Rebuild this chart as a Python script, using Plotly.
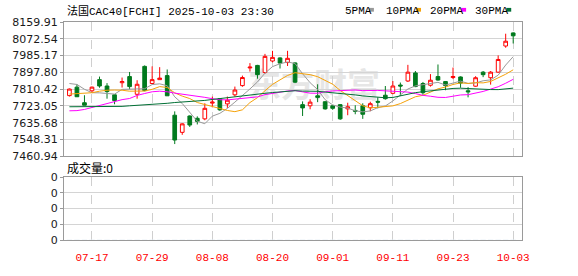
import plotly.graph_objects as go
import pandas as pd

# ---------------- data ----------------
dates = ["07-14", "07-15", "07-16", "07-17", "07-18", "07-21", "07-22", "07-23", "07-24", "07-25",
         "07-28", "07-29", "07-30", "07-31", "08-01", "08-04", "08-05", "08-06", "08-07", "08-08",
         "08-11", "08-12", "08-13", "08-14", "08-15", "08-18", "08-19", "08-20", "08-21", "08-22",
         "08-25", "08-26", "08-27", "08-28", "08-29", "09-01", "09-02", "09-03", "09-04", "09-05",
         "09-08", "09-09", "09-10", "09-11", "09-12", "09-15", "09-16", "09-17", "09-18", "09-19",
         "09-22", "09-23", "09-24", "09-25", "09-26", "09-29", "09-30", "10-01", "10-02", "10-03"]

opens = [7777, 7821, 7740, 7802, 7860, 7827, 7781, 7844, 7876, 7784,
         7929, 7840, 7860, 7881, 7675, 7586, 7671, 7659, 7656, 7738,
         7761, 7734, 7781, 7829, 7921, 7934, 7897, 7957, 7973, 7949,
         7947, 7730, 7724, 7776, 7745, 7724, 7730, 7708, 7700, 7724,
         7714, 7747, 7779, 7789, 7832, 7853, 7895, 7840, 7831, 7876,
         7850, 7871, 7874, 7802, 7826, 7899, 7870, 7899, 8035, 8103]
highs = [7814, 7836, 7779, 7824, 7876, 7842, 7784, 7871, 7900, 7857,
         7934, 7929, 7925, 7913, 7695, 7633, 7674, 7669, 7737, 7772,
         7764, 7772, 7824, 7881, 7946, 7937, 7994, 8010, 7976, 8010,
         7950, 7747, 7758, 7836, 7748, 7729, 7733, 7740, 7727, 7737,
         7745, 7768, 7827, 7853, 7845, 7937, 7905, 7848, 7889, 7939,
         7853, 7923, 7877, 7821, 7878, 7905, 7905, 7986, 8099, 8106]
lows = [7772, 7771, 7727, 7795, 7818, 7761, 7732, 7819, 7810, 7761,
        7800, 7840, 7860, 7776, 7525, 7573, 7614, 7627, 7649, 7716,
        7698, 7713, 7772, 7823, 7902, 7865, 7891, 7950, 7918, 7931,
        7842, 7671, 7706, 7743, 7704, 7703, 7651, 7675, 7680, 7656,
        7696, 7711, 7756, 7784, 7776, 7848, 7821, 7781, 7824, 7855,
        7805, 7863, 7818, 7768, 7823, 7873, 7834, 7896, 8026, 8048]
closes = [7811, 7771, 7727, 7821, 7827, 7798, 7751, 7850, 7824, 7836,
          7803, 7860, 7868, 7776, 7546, 7630, 7624, 7643, 7711, 7743,
          7703, 7753, 7806, 7871, 7925, 7886, 7981, 7976, 7946, 7971,
          7847, 7713, 7743, 7768, 7708, 7711, 7656, 7719, 7696, 7680,
          7735, 7743, 7761, 7827, 7827, 7899, 7824, 7792, 7857, 7858,
          7829, 7876, 7842, 7797, 7870, 7886, 7899, 7965, 8060, 8088]
volumes = [0, 0, 0, 0, 0, 0, 0, 0, 0, 0, 0, 0, 0, 0, 0, 0, 0, 0, 0, 0,
           0, 0, 0, 0, 0, 0, 0, 0, 0, 0, 0, 0, 0, 0, 0, 0, 0, 0, 0, 0,
           0, 0, 0, 0, 0, 0, 0, 0, 0, 0, 0, 0, 0, 0, 0, 0, 0, 0, 0, 0]

ma5_head = [7840, 7835, 7810, 7792]
ma10_head = [7785, 7788, 7789, 7792, 7800, 7805, 7806, 7805, 7800]
ma20_head = [7698, 7699, 7705, 7716, 7726, 7737, 7746, 7756, 7762, 7778,
             7788, 7797, 7800, 7797, 7790, 7785, 7780, 7774, 7768]
ma30_head = [7719, 7719, 7719, 7719, 7719, 7719, 7719, 7721, 7724, 7726,
             7728, 7731, 7734, 7737, 7741, 7743, 7745, 7748, 7752, 7757,
             7762, 7767, 7772, 7777, 7781, 7785, 7789, 7793, 7797]

tick_labels = ["07-17", "07-29", "08-08", "08-20", "09-01", "09-11", "09-23", "10-03"]
price_ticks = [8159.91, 8072.54, 7985.17, 7897.80, 7810.42, 7723.05, 7635.68, 7548.31, 7460.94]
vol_ticks = [0, 1, 2, 3, 4]
vol_tick_text = ["0", "0", "0", "0", "0"]

title_text = "法国CAC40[FCHI] 2025-10-03 23:30"
vol_title = "成交量:0"
ma_names = ["5PMA", "10PMA", "20PMA", "30PMA"]
ma_colors = ["#999999", "#f5a20a", "#ff00ff", "#006f35"]

# ---------------- derived ----------------
x = list(range(len(dates)))
tickvals = [dates.index(t) for t in tick_labels]


def moving_average(n, head):
    s = pd.Series(closes).rolling(n).mean().tolist()
    return list(head) + s[len(head):]


mas = [moving_average(5, ma5_head), moving_average(10, ma10_head),
       moving_average(20, ma20_head), moving_average(30, ma30_head)]

# ---------------- geometry helpers ----------------
W, H = 578, 276
L, R, T, B = 55, 56, 22, 22
PW, PH = W - L - R, H - T - B


def px(xp):
    return (xp - L) / PW


def py(yp):
    return (H - B - yp) / PH


main_dom = [py(165), 1.0]
vol_dom = [0.0, py(187)]

fig = go.Figure()

for name, col, vals in zip(ma_names, ma_colors, mas):
    fig.add_trace(go.Scatter(x=x, y=vals, mode="lines", name=name,
                             line=dict(color=col, width=1), hoverinfo="skip",
                             xaxis="x", yaxis="y"))

fig.add_trace(go.Candlestick(
    x=x, open=opens, high=highs, low=lows, close=closes,
    increasing=dict(line=dict(color="#ff0000", width=1), fillcolor="#ffffff"),
    decreasing=dict(line=dict(color="#007a1e", width=1), fillcolor="#007a1e"),
    whiskerwidth=0, xaxis="x", yaxis="y", name="K"))

fig.add_trace(go.Bar(x=x, y=volumes, marker_color="#007a1e", xaxis="x2", yaxis="y2"))

grid = "#d4d4d4"
frame = "#9a9a9a"
xr = [-0.72, 60.17]
axfont = dict(family="DejaVu Sans", size=11, color="#1a1a1a")

fig.update_layout(
    width=W, height=H, margin=dict(l=L, r=R, t=T, b=B),
    paper_bgcolor="white", plot_bgcolor="white", showlegend=False,
    xaxis=dict(domain=[0, 1], anchor="y", range=xr, tickvals=tickvals, showticklabels=False,
               showgrid=True, gridcolor="#cfcfcf", griddash="dash", gridwidth=1,
               showline=True, linecolor=frame, mirror=True, zeroline=False,
               rangeslider=dict(visible=False), ticks=""),
    yaxis=dict(domain=main_dom, anchor="x", range=[price_ticks[-1], price_ticks[0]],
               tickvals=price_ticks, ticktext=[f"{v:.2f}" for v in price_ticks],
               showgrid=True, gridcolor=grid, showline=True, linecolor=frame, mirror=True,
               zeroline=False, ticks="outside", ticklen=3, tickcolor=frame, tickfont=axfont),
    xaxis2=dict(domain=[0, 1], anchor="y2", range=xr, tickvals=tickvals, ticktext=tick_labels,
                showgrid=True, gridcolor="#cfcfcf", griddash="dash",
                showline=True, linecolor=frame, mirror=True, zeroline=False, ticks="",
                ticklabelstandoff=7,
                tickfont=dict(family="Liberation Mono", size=11, color="#ff0000")),
    yaxis2=dict(domain=vol_dom, anchor="x2", range=[vol_ticks[0], vol_ticks[-1]],
                tickvals=vol_ticks, ticktext=vol_tick_text, showgrid=True, gridcolor=grid,
                showline=True, linecolor=frame, mirror=True, zeroline=False,
                ticks="outside", ticklen=3, tickcolor=frame, tickfont=axfont),
    bargap=0.3,
)

# watermark (below data)
fig.add_shape(type="rect", xref="paper", yref="paper", x0=px(240), x1=px(380), y0=py(112), y1=py(72),
              line=dict(width=0), fillcolor="rgba(0,0,0,0)", layer="below",
              label=dict(text="<b>东方财富</b>", font=dict(family="Noto Sans CJK SC", size=33, color="#e6e6e6"),
                         textposition="middle center"))

# title & volume label
fig.add_annotation(xref="paper", yref="paper", x=px(56), y=py(10), xanchor="left", yanchor="middle",
                   text=title_text, showarrow=False,
                   font=dict(family="Liberation Mono, Noto Sans CJK SC", size=11, color="#000000"))
fig.add_annotation(xref="paper", yref="paper", x=px(56), y=py(177), xanchor="left", yanchor="middle",
                   text=vol_title, showarrow=False,
                   font=dict(family="Noto Sans CJK SC", size=12, color="#000000"))

# legend
leg_x = [339, 381, 426, 472]
sq_x = [366, 414, 460, 506]
for name, col, lx, sx in zip(ma_names, ma_colors, leg_x, sq_x):
    fig.add_annotation(xref="paper", yref="paper", x=px(lx), y=py(10), xanchor="left", yanchor="middle",
                       text=name, showarrow=False,
                       font=dict(family="Liberation Mono", size=11, color="#000000"))
    fig.add_shape(type="rect", xref="paper", yref="paper", x0=px(sx), x1=px(sx + 5), y0=py(11), y1=py(7),
                  line=dict(width=0), fillcolor=col)

fig.write_html("out.html")
